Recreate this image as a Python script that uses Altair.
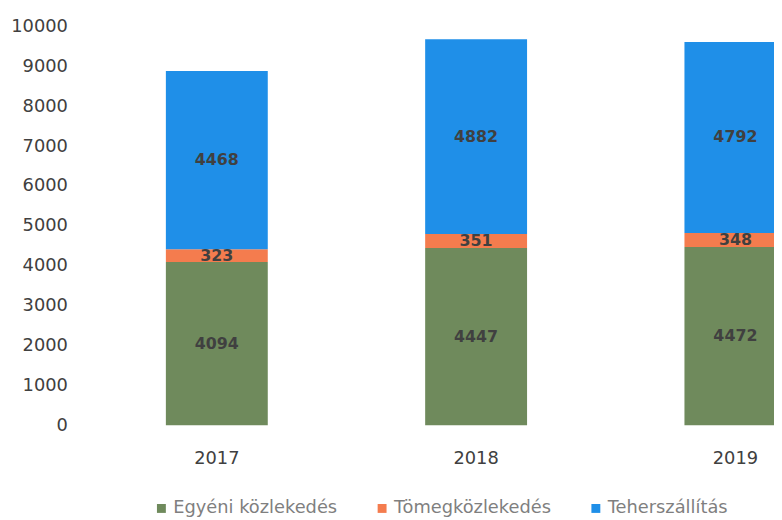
import altair as alt
import pandas as pd

years = ["2017", "2018", "2019"]
categories = ["Egyéni közlekedés", "Tömegközlekedés", "Teherszállítás"]
egyeni = [4094, 4447, 4472]
tomeg = [323, 351, 348]
teher = [4468, 4882, 4792]
colors = ["#6f8a5c", "#f47c4e", "#1f8fe8"]
y_ticks = [0, 1000, 2000, 3000, 4000, 5000, 6000, 7000, 8000, 9000, 10000]

rows = []
for i, yr in enumerate(years):
    for k, (cat, vals) in enumerate(zip(categories, [egyeni, tomeg, teher])):
        rows.append({"year": yr, "category": cat, "value": vals[i], "order": k})
df = pd.DataFrame(rows)

FONT = "DejaVu Sans"

x = alt.X(
    "year:N",
    sort=years,
    scale=alt.Scale(range=[0, 786], paddingInner=0.607, paddingOuter=0.3035),
    axis=alt.Axis(title=None, labelAngle=0, domain=False, ticks=False,
                  labelPadding=25, labelFontSize=18, labelColor="#404040",
                  labelFont=FONT),
)

bars = alt.Chart(df).mark_bar().encode(
    x=x,
    y=alt.Y(
        "sum(value):Q",
        stack="zero",
        scale=alt.Scale(domain=[0, 10000], nice=False),
        axis=alt.Axis(title=None, values=y_ticks, format="d", grid=False,
                      domain=False, ticks=False, labelPadding=20,
                      labelFontSize=18, labelColor="#404040", labelFont=FONT),
    ),
    color=alt.Color(
        "category:N",
        scale=alt.Scale(domain=categories, range=colors),
        legend=alt.Legend(
            title=None, orient="none", legendX=66, legendY=478,
            direction="horizontal", symbolType="square", symbolSize=81,
            symbolStrokeWidth=0, labelFontSize=18, labelColor="#7f7f7f",
            labelFont=FONT, columnPadding=36, labelOffset=3, labelLimit=400,
        ),
    ),
    order=alt.Order("order:Q", sort="ascending"),
)

labels = alt.Chart(df).transform_stack(
    stack="value", groupby=["year"], as_=["y0", "y1"],
    sort=[alt.SortField("order", order="ascending")],
).transform_calculate(
    mid="(datum.y0 + datum.y1) / 2"
).mark_text(
    fontWeight="bold", fontSize=16, color="#404040", font=FONT, baseline="middle"
).encode(
    x=x,
    y=alt.Y("mid:Q"),
    text=alt.Text("value:Q"),
)

chart = alt.layer(bars, labels).properties(
    width=694,
    height=403,
    autosize=alt.AutoSizeParams(type="none"),
    padding={"left": 80, "top": 16, "right": 0, "bottom": 93},
    background="white",
).configure_view(stroke=None)

chart.save("out.html", embed_options={"renderer": "svg", "actions": False})
